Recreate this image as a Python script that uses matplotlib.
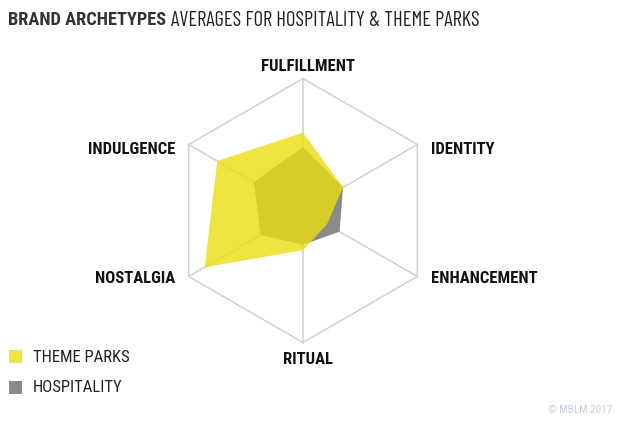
import numpy as np
import matplotlib
matplotlib.use("Agg")
from matplotlib import pyplot as plt
from matplotlib.patches import Rectangle

# Data (0..1 scale of the outer hexagon)
axes_labels = ['FULFILLMENT', 'IDENTITY', 'ENHANCEMENT', 'RITUAL', 'NOSTALGIA', 'INDULGENCE']
theme_parks = [0.59, 0.35, 0.21, 0.30, 0.86, 0.75]
hospitality = [0.48, 0.35, 0.32, 0.26, 0.37, 0.43]

series_names = ['THEME PARKS', 'HOSPITALITY']
yellow = '#ECDD10'
gray = '#8A8A8A'

cond = ['Roboto Condensed', 'Barlow Semi Condensed', 'Liberation Sans Narrow', 'DejaVu Sans']
narrow = ['Barlow Condensed', 'Roboto Condensed', 'DejaVu Sans']

# angles, clockwise starting at the top
angles = np.deg2rad(90 - 60 * np.arange(len(axes_labels)))

def to_xy(vals):
    v = np.asarray(vals)
    return v * np.cos(angles), v * np.sin(angles)

fig = plt.figure(figsize=(6.2, 4.27), dpi=100)
ax = fig.add_axes([0, 0, 1, 1])
# centre of the chart at (303, 211.5) px, radius 132 px
R = 132.0
ax.set_xlim(-303 / R, (620 - 303) / R)
ax.set_ylim(-(427 - 211.5) / R, 211.5 / R)
ax.axis('off')

# grid: outer hexagon + spokes
hx, hy = to_xy(np.ones(len(axes_labels)))
ax.plot(np.append(hx, hx[0]), np.append(hy, hy[0]), color='#D0D0D0', lw=1.1, zorder=1)
for x, y in zip(hx, hy):
    ax.plot([0, x], [0, y], color='#D0D0D0', lw=1.1, zorder=1)

# series
gx, gy = to_xy(hospitality)
ax.fill(gx, gy, color=gray, lw=0, zorder=2)
tx, ty = to_xy(theme_parks)
ax.fill(tx, ty, color=yellow, alpha=0.8, lw=0, zorder=3)

# axis labels
for lab, a in zip(axes_labels, angles):
    c, s = np.cos(a), np.sin(a)
    if abs(c) < 0.1:
        y = 1.1 if s > 0 else -1.12
        ax.text(0.04, y, lab, ha='center', va='center',
                fontsize=12, fontweight='bold', family=cond, color='#111111')
    else:
        y = 0.466 if s > 0 else -0.505
        ax.text(c + 0.1 * np.sign(c), y, lab,
                ha='left' if c > 0 else 'right', va='center',
                fontsize=12, fontweight='bold', family=cond, color='#111111')

# title
t1 = fig.text(8 / 620, 1 - 20 / 427, 'BRAND ARCHETYPES', fontsize=13.2, fontweight='bold',
              family=cond, color='#333333', va='center', ha='left')
fig.canvas.draw()
bb = t1.get_window_extent()
fig.text((bb.x1 + 5) / 620, 1 - 20 / 427, 'AVERAGES FOR HOSPITALITY & THEME PARKS',
         fontsize=14.8, family=narrow, color='#222222',
         va='center', ha='left')

# legend
for i, (name, col) in enumerate(zip(series_names, [yellow, gray])):
    yc = 357 + 31 * i
    a = 0.8 if i == 0 else 1.0
    fig.patches.append(Rectangle((9 / 620, 1 - (yc + 7) / 427), 13 / 620, 13 / 427,
                                 transform=fig.transFigure, color=col, alpha=a, lw=0))
    fig.text(33 / 620, 1 - yc / 427, name, fontsize=12, family=cond,
             color='#222222', va='center', ha='left')

fig.text(612 / 620, 1 - 410 / 427, '\u00a9 MBLM 2017', fontsize=8, family=cond,
         color='#C5CED8', va='center', ha='right')

fig.savefig('out.png', dpi=100)
